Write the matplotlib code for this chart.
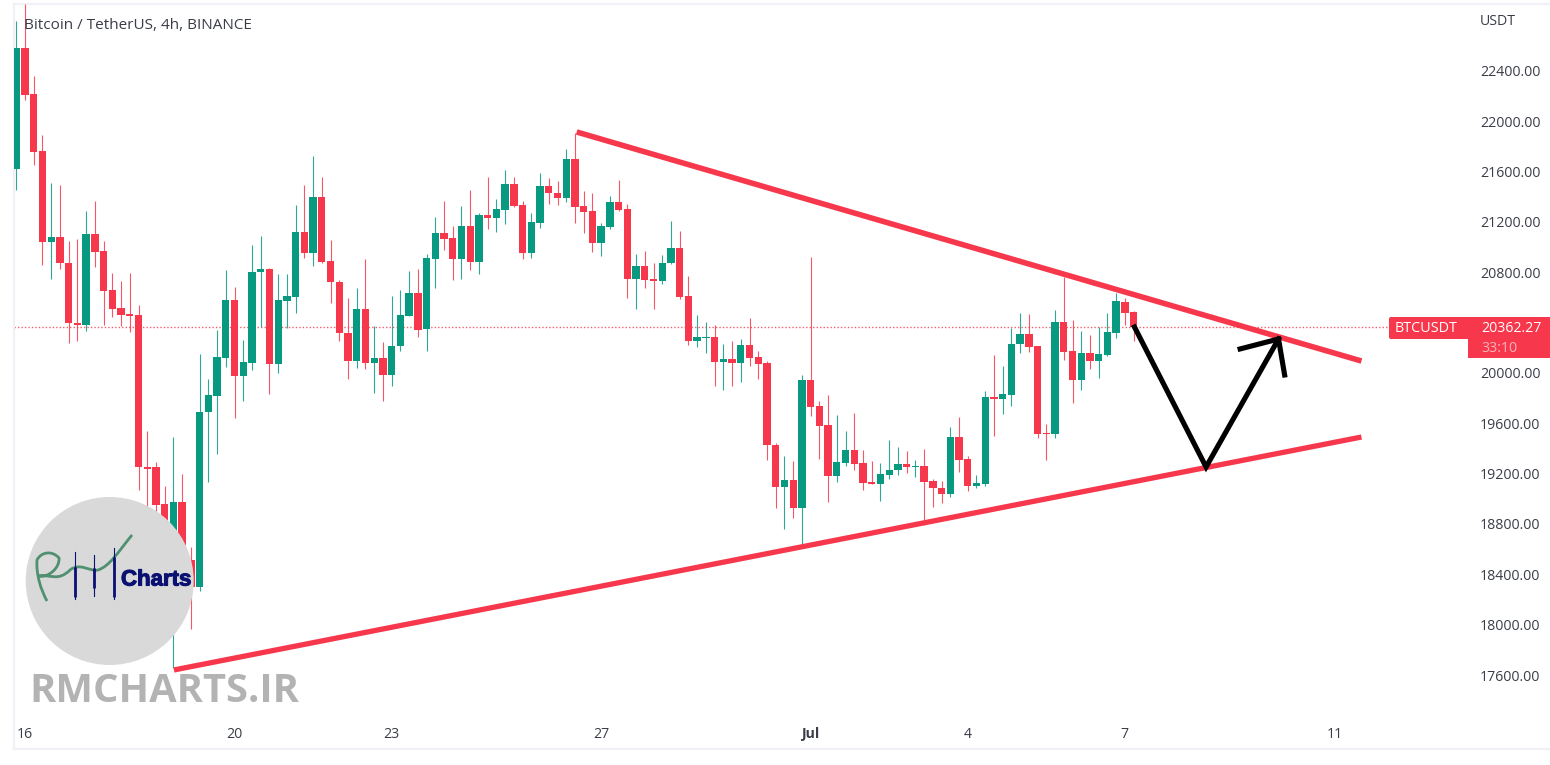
#!/usr/bin/env python3
# coding=utf-8
import matplotlib
matplotlib.use('Agg')
import matplotlib.pyplot as plt
import matplotlib.patheffects as pe
from matplotlib.patches import Circle, FancyBboxPatch, PathPatch, Rectangle
from matplotlib.path import Path

######## candles, 4h
opens = [21621,22583,22213,21764,21037,21077,20874,20397,20381,21104,
         20969,20659,20516,20469,20461,19253,19253,18959,18434,18975,
         18514,18299,19690,19817,20119,20580,19976,20079,20802,20826,
         20071,20572,20604,21120,20953,21398,20890,20723,20318,20095,
         20508,20079,20119,19984,20214,20453,20636,20349,20906,21112,
         21073,20906,21168,20882,21255,21232,21295,21502,21335,20953,
         21192,21486,21430,21390,21700,21327,21287,21033,21160,21359,
         21303,20747,20850,20747,20731,20874,20993,20612,20254,20278,
         20286,20087,20111,20079,20222,20127,20079,19428,19094,19149,
         18927,19944,19738,19586,19181,19285,19388,19285,19134,19118,
         19189,19229,19277,19253,19261,19142,19086,19038,19491,19316,
         19102,19118,19809,19793,19825,20230,20310,20214,19523,19515,
         20405,20175,19944,20159,20095,20143,20318,20564,20485]
highs = [22797,22932,22360,21891,21510,21494,21049,21065,21287,21367,
         21049,20795,20731,20795,20540,19539,19292,19102,19491,19197,
         18617,20151,19952,20342,20818,20683,20262,21017,21089,20834,
         20787,20787,21335,21494,21724,21557,21057,20739,20596,20675,
         20906,20373,20246,20612,20659,20810,20826,20945,21240,21367,
         21168,21327,21454,21271,21557,21383,21613,21557,21367,21271,
         21589,21549,21526,21780,21907,21446,21430,21192,21406,21534,
         21343,20945,20969,20874,20937,21208,21128,20771,20461,20405,
         20381,20230,20254,20270,20437,20175,20095,19444,19340,19300,
         19984,20922,19777,19825,19666,19539,19682,19388,19300,19285,
         19467,19412,19380,19308,19396,19157,19142,19571,19650,19340,
         19189,19857,20143,20055,20357,20477,20469,20214,19594,20500,
         20763,20421,20334,20302,20365,20477,20636,20596,20493]
lows = [21454,22169,21653,20858,20747,20826,20238,20254,20334,20842,
        20381,20445,20373,20326,19070,18911,18831,18633,17655,18394,
        17965,18267,19134,19356,20047,19642,19777,20024,20365,19833,
        20000,20357,20477,20914,20850,20874,20556,20254,19952,20040,
        20032,19841,19777,19896,20175,20453,20286,20175,20675,20977,
        20739,20747,20818,20787,21144,21120,21184,21319,20906,20914,
        21152,21343,21335,21359,21192,21112,20961,20930,21144,21287,
        20596,20508,20675,20508,20707,20866,20588,20222,20206,20159,
        19896,19865,19896,19928,20055,19952,19308,18927,18760,18848,
        18625,19658,19316,18975,19134,19261,19229,19070,19118,18983,
        19157,19189,19205,19173,18792,18935,18967,19014,19213,19062,
        19086,19102,19499,19674,19738,20159,20167,19483,19308,19483,
        20103,19761,19865,20032,19960,20135,20278,20381,20254]
closes = [22583,22209,21756,21041,21077,20874,20397,20381,21104,20961,
          20651,20508,20461,20453,19253,19237,18951,18752,18975,18514,
          18299,19690,19825,20127,20580,19976,20087,20802,20826,20071,
          20580,20612,21120,20953,21398,20882,20723,20318,20095,20508,
          20079,20119,19984,20214,20461,20636,20342,20914,21112,21065,
          20906,21168,20882,21255,21232,21303,21502,21327,20953,21200,
          21486,21430,21390,21700,21319,21279,21033,21168,21359,21295,
          20747,20850,20739,20731,20874,20993,20604,20254,20286,20286,
          20087,20111,20079,20222,20119,20071,19428,19094,19149,18927,
          19944,19730,19579,19181,19292,19388,19277,19126,19118,19197,
          19229,19277,19253,19261,19134,19086,19038,19491,19308,19102,
          19126,19809,19793,19833,20230,20310,20206,19515,19515,20405,
          20167,19944,20159,20095,20151,20326,20572,20477,20362.27]
last_price = 20362.27

######## axis ticks
price_ticks = [17600,18000,18400,18800,19200,19600,20000,20400,20800,
               21200,21600,22000,22400]
# the 20400 row sits behind the price tag in the reference
price_labels = ['%.2f' % p if p != 20400 else '' for p in price_ticks]
date_ticks = [1, 25, 43, 67, 91, 109, 127, 151]
date_labels = ['16', '20', '23', '27', 'Jul', '4', '7', '11']

######## drawn trend lines and the sketched path (candle number, price)
upper_bar = [64.2, 154.1]
upper_price = [21915, 20095]
lower_bar = [18.06, 154.1]
lower_price = [17640, 19491]
path_bar = [128.1, 136.3, 144.6]
path_price = [20365, 19253, 20270]
head_bar = [140.2, 144.6, 145.3]
head_price = [20191, 20270, 19984]

######## colours
UP = '#089981'
DOWN = '#F7374B'
TEXT = '#3A3D47'
BORDER = '#F0F1F6'

plt.rcParams['font.family'] = ['Open Sans', 'DejaVu Sans']

fig = plt.figure(figsize=(15.5, 7.65), dpi=100, facecolor='white')
W, H = 1550.0, 765.0
ax = fig.add_axes([14/W, 1-749/H, (W-14)/W, 745/H])

# pixel scale of the pane: one candle is 8.73 px wide, 400 USDT is 50.33 px
ax.set_xlim(-0.263, 175.7)
ax.set_ylim(17012, 22932)

######## candles
idx = list(range(len(closes)))
colors = [UP if c >= o else DOWN for o, c in zip(opens, closes)]
ax.vlines(idx, lows, highs, colors=colors, linewidth=0.8, alpha=0.85, zorder=3)
bottoms = [min(o, c) for o, c in zip(opens, closes)]
heights = [max(abs(c-o), 10) for o, c in zip(opens, closes)]
ax.bar(idx, heights, bottom=bottoms, width=0.84, color=colors, linewidth=0, zorder=4)

ax.axhline(last_price, color='#F23645', linewidth=1.0, alpha=0.8, linestyle=(0, (1, 1.5)), zorder=2)

######## trend lines
ax.plot(upper_bar, upper_price, color=DOWN, linewidth=4.0, zorder=5, solid_capstyle='butt')
ax.plot(lower_bar, lower_price, color=DOWN, linewidth=3.8, zorder=5, solid_capstyle='butt')
ax.plot(path_bar, path_price, color='black', linewidth=3.7, zorder=6, solid_joinstyle='miter')
ax.plot(head_bar, head_price, color='black', linewidth=3.7, zorder=6, solid_joinstyle='miter')

######## axes look
ax.yaxis.tick_right()
ax.set_yticks(price_ticks)
ax.set_yticklabels(price_labels)
ax.set_xticks(date_ticks)
ax.set_xticklabels(date_labels)
ax.tick_params(axis='y', length=0, pad=-50.5, labelsize=10.2, labelcolor=TEXT)
ax.tick_params(axis='x', length=0, pad=-16, labelsize=10.2, labelcolor=TEXT)
ax.get_xticklabels()[4].set_fontweight('bold')
ax.spines['right'].set_visible(False)
for s in ['left', 'top', 'bottom']:
    ax.spines[s].set_color(BORDER)
    ax.spines[s].set_linewidth(1.6)

######## overlay in pixels: legend text, price tag, watermark
ov = fig.add_axes([0, 0, 1, 1], facecolor='none')
ov.set_xlim(0, W)
ov.set_ylim(H, 0)
ov.axis('off')

ov.text(24, 25, 'Bitcoin / TetherUS, 4h, BINANCE', fontsize=11, color=TEXT, va='center')
ov.text(1480, 21, 'USDT', fontsize=10.2, color=TEXT, va='center')

ov.add_patch(FancyBboxPatch((1391, 319), 170, 18, boxstyle='round,pad=2,rounding_size=2',
                            fc=DOWN, ec='none', zorder=2))
ov.add_patch(Rectangle((1468, 337), 82, 21, fc=DOWN, ec='none', zorder=2))
ov.text(1395, 328, 'BTCUSDT', fontsize=10.4, color='white', va='center', zorder=3)
ov.text(1481, 328, '20362.27', fontsize=10.2, color='white', va='center', zorder=3)
ov.text(1481, 348, '33:10', fontsize=10.2, color='#FBB4BC', va='center', zorder=3)

######## logo
ov.add_patch(Circle((109.7, 581), 84, fc='#D9D9D9', ec='none', zorder=2))
squiggle = Path([(47, 601), (41, 590), (36, 575), (37, 560),
                 (41, 552), (52, 550), (59, 558),
                 (60, 568), (48, 578), (39, 576),
                 (50, 574), (58, 582), (70, 570),
                 (80, 562), (90, 572), (98, 570),
                 (110, 566), (118, 552), (132, 535)],
                [Path.MOVETO] + [Path.CURVE4]*18)
ov.add_patch(PathPatch(squiggle, fc='none', ec='#4F9070', lw=2.0, zorder=3))
NAVY = '#0A1172'
for x, y0, y1, b0, b1 in [(75, 552, 599, 567, 597), (94, 555, 596, 568, 588), (114, 548, 599, 557, 597)]:
    ov.plot([x, x], [y0, y1], color=NAVY, lw=0.8, zorder=4)
    ov.plot([x, x], [b0, b1], color=NAVY, lw=2.0, zorder=4, solid_capstyle='butt')
ov.text(121, 580, 'Charts', fontsize=16, color=NAVY, va='center', ha='left', zorder=4,
        family=['Liberation Sans', 'DejaVu Sans'], fontweight='bold',
        path_effects=[pe.withStroke(linewidth=0.8, foreground=NAVY)])
ov.text(29, 692, 'RMCHARTS.IR', fontsize=28.7, color='#B3B3B3', va='center', ha='left', zorder=4,
        family=['Open Sans', 'DejaVu Sans'], fontweight='bold')

fig.savefig('out.png', dpi=100)
